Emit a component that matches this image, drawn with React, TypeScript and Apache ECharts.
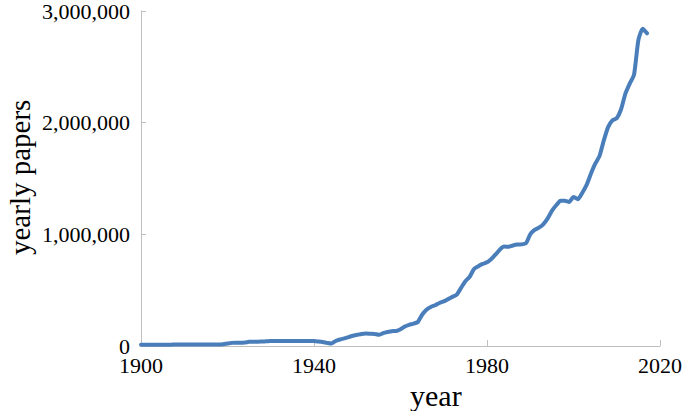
import React, { useEffect, useRef } from "react";
import * as echarts from "echarts";

const years: number[] = [];
for (let y = 1900; y <= 2017; y++) years.push(y);

const papers: number[] = [
  // 1900-1919
  11000, 11000, 11000, 12000, 12000, 12000, 12000, 12000, 13000, 13000,
  13000, 13000, 13000, 13000, 13000, 13000, 13000, 13000, 14000, 15000,
  // 1920-1939
  22000, 28000, 30000, 30000, 32000, 37000, 38000, 38000, 40000, 42000,
  44000, 44000, 44000, 44000, 44000, 44000, 44000, 44000, 44000, 44000,
  // 1940-1959
  44000, 40000, 35000, 28000, 22000, 45000, 58000, 68000, 80000, 92000,
  100000, 108000, 112000, 110000, 108000, 100000, 115000, 125000, 133000, 135000,
  // 1960-1979
  150000, 175000, 190000, 200000, 215000, 280000, 325000, 350000, 365000, 385000,
  400000, 420000, 440000, 460000, 520000, 580000, 620000, 690000, 715000, 735000,
  // 1980-1999
  750000, 780000, 820000, 865000, 890000, 888000, 900000, 908000, 910000, 920000,
  1000000, 1040000, 1060000, 1090000, 1140000, 1210000, 1260000, 1300000, 1300000, 1290000,
  // 2000-2017
  1335000, 1315000, 1370000, 1440000, 1540000, 1630000, 1700000, 1840000, 1960000, 2020000,
  2040000, 2120000, 2260000, 2350000, 2430000, 2740000, 2840000, 2800000,
];

const xTitle = "year";
const yTitle = "yearly papers";

export default function App() {
  const ref = useRef<HTMLDivElement>(null);
  useEffect(() => {
    if (!ref.current) return;
    const chart = echarts.init(ref.current, undefined, { renderer: "svg" });
    const font = "'Liberation Serif', 'Times New Roman', serif";
    chart.setOption({
      animation: false,
      backgroundColor: "#ffffff",
      grid: { left: 141, right: 25, top: 10, bottom: 65, containLabel: false },
      xAxis: {
        type: "value",
        min: 1900,
        max: 2020,
        interval: 40,
        axisLine: { show: true, lineStyle: { color: "#bfbfbf", width: 1 } },
        axisTick: { show: true, inside: true, length: 6, lineStyle: { color: "#bfbfbf" } },
        splitLine: { show: false },
        axisLabel: {
          color: "#000",
          fontFamily: font,
          fontSize: 22,
          margin: 8,
          formatter: (v: number) => String(v),
        },
      },
      yAxis: {
        type: "value",
        min: 0,
        max: 3000000,
        interval: 1000000,
        axisLine: { show: true, lineStyle: { color: "#bfbfbf", width: 1 } },
        axisTick: { show: true, inside: true, length: 5, lineStyle: { color: "#bfbfbf" } },
        splitLine: { show: false },
        axisLabel: {
          color: "#000",
          fontFamily: font,
          fontSize: 22,
          margin: 11,
          formatter: (v: number) => v.toLocaleString("en-US"),
        },
      },
      graphic: [
        {
          type: "text",
          left: 410,
          top: 380,
          style: { text: xTitle, font: `30px ${font}`, fill: "#000" },
        },
        {
          type: "text",
          x: 5,
          y: 255,
          rotation: Math.PI / 2,
          style: { text: yTitle, font: `29px ${font}`, fill: "#000", textVerticalAlign: "top" },
        },
      ],
      series: [
        {
          type: "line",
          data: years.map((y, i) => [y, papers[i]]),
          showSymbol: false,
          smooth: 0.2,
          lineStyle: { color: "#4a7ebb", width: 4, join: "round", cap: "round" },
          itemStyle: { color: "#4a7ebb" },
        },
      ],
    });
    return () => chart.dispose();
  }, []);
  return <div ref={ref} style={{ width: 685, height: 411, position: "absolute", left: 0, top: 0 }} />;
}
